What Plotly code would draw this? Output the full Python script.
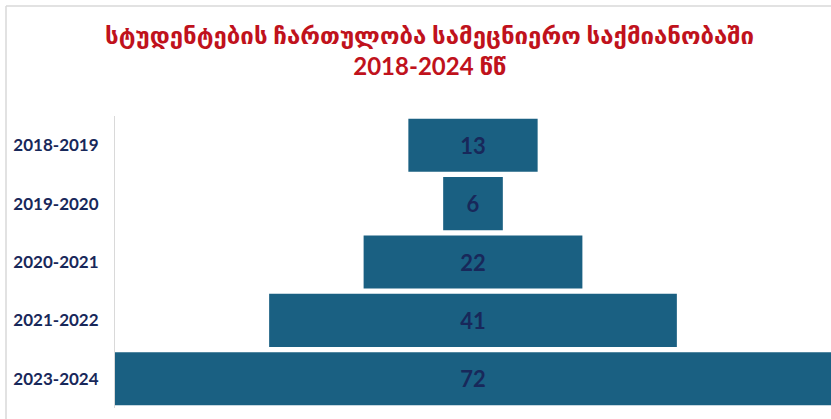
import plotly.graph_objects as go

# Academic years and number of students taking part in research activities
years = ["2018-2019", "2019-2020", "2020-2021", "2021-2022", "2023-2024"]
students = [13, 6, 22, 41, 72]

title_text = "სტუდენტების ჩართულობა სამეცნიერო საქმიანობაში<br>2018-2024 წწ"

BAR_COLOR = "#1a6082"
LABEL_COLOR = "#18285a"
TITLE_COLOR = "#c0121c"
FONT = "Lato, 'DejaVu Sans', sans-serif"

fig = go.Figure(
    go.Funnel(
        y=years,
        x=students,
        text=[str(v) for v in students],
        textinfo="text",
        textposition="inside",
        insidetextanchor="middle",
        textfont=dict(family=FONT, size=22, color=LABEL_COLOR, weight="bold"),
        marker=dict(color=BAR_COLOR, line=dict(width=0)),
        connector=dict(visible=False),
        hoverinfo="y+x",
    )
)

# Plot-area geometry in pixels (used for the frame lines below)
W, H = 831, 419
ML, MR, MT, MB = 115, 0, 116, 11
pw, ph = W - ML - MR, H - MT - MB


def px_x(px):
    return (px - ML) / pw


def px_y(py):
    return (H - MB - py) / ph


frame = dict(color="#d9d9d9", width=1.5)
fig.add_shape(type="line", xref="paper", yref="paper",
              x0=px_x(6), x1=px_x(W + 5), y0=px_y(6), y1=px_y(6), line=frame)
fig.add_shape(type="line", xref="paper", yref="paper",
              x0=px_x(6), x1=px_x(6), y0=px_y(6), y1=px_y(H + 5), line=frame)

fig.update_layout(
    width=W,
    height=H,
    margin=dict(l=ML, r=MR, t=MT, b=MB),
    paper_bgcolor="white",
    plot_bgcolor="white",
    funnelgap=0.09,
    showlegend=False,
    title=dict(
        text=title_text,
        x=0.517,
        xanchor="center",
        xref="container",
        y=1 - 44 / H,
        yref="container",
        yanchor="middle",
        font=dict(family=FONT, size=24, color=TITLE_COLOR, weight="bold"),
    ),
    xaxis=dict(visible=False, range=[-36, 36], fixedrange=True),
    yaxis=dict(
        showline=True,
        linecolor="#d9d9d9",
        linewidth=1,
        showgrid=False,
        ticks="",
        ticklabelstandoff=12,
        tickfont=dict(family=FONT, size=17, color=LABEL_COLOR, weight="bold"),
    ),
)

fig.write_html("out.html")
